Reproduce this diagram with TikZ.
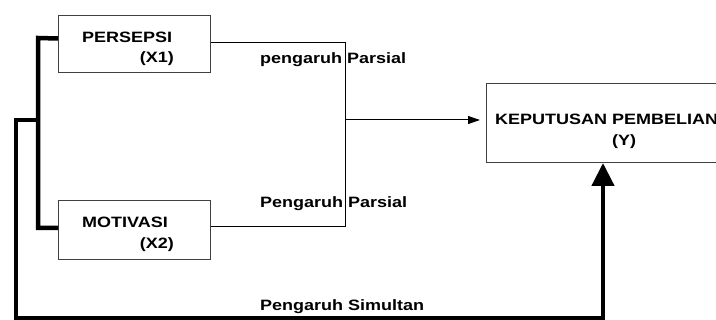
\documentclass[tikz,border=0pt]{standalone}
\usepackage{fontspec}
\setmainfont{Liberation Sans}[FakeStretch=1.2]
\usetikzlibrary{arrows.meta}
\begin{document}
\begin{tikzpicture}[x=1pt,y=-1pt,
  box/.style={draw=black!75, line width=1pt, inner sep=0pt, anchor=north west},
  lbl/.style={font=\bfseries\fontsize{15}{18}\selectfont, inner sep=0pt, anchor=base west},
  thinln/.style={line width=1pt},
  thickln/.style={line width=4.5pt}]
\useasboundingbox (0,0) rectangle (716,320);
\clip (0,0) rectangle (716,320);
% boxes
\node[box, minimum width=152pt, minimum height=57pt] (x1) at (58,15) {};
\node[box, minimum width=152pt, minimum height=59pt] (x2) at (58,200) {};
\node[box, minimum width=270pt, minimum height=79pt] (y) at (486,83) {};
% box texts
\node[lbl] (t1a) at (82,43) {PERSEPSI};
\node[lbl, anchor=base east] (t1b) at (174,63) {(X1)};
\node[lbl] (t2a) at (82,228) {MOTIVASI};
\node[lbl, anchor=base east] (t2b) at (174,249) {(X2)};
\node[lbl] (t3a) at (495,125) {KEPUTUSAN PEMBELIAN};
\node[lbl, anchor=base] (t3b) at (624,146) {(Y)};
% connector labels
\node[lbl] (l1) at (260,64) {pengaruh Parsial};
\node[lbl] (l2) at (260,208) {Pengaruh Parsial};
\node[lbl] (l3) at (260,311) {Pengaruh Simultan};
% thin partial connectors
\coordinate (j1) at (345,43);
\coordinate (j2) at (345,227);
\coordinate (j3) at (345,120);
\draw[thinln] (x1.east |- j1) -- (j1) -- (j2) -- (x2.east |- j2);
\draw[thinln, -{Triangle[length=12pt,width=8pt]}] (j3) -- ([xshift=-6pt]y.west |- j3);
% thick bracket
\coordinate (b0) at (38,38);
\coordinate (b2) at (38,228);
\coordinate (b1) at (38,120);
\draw[thickln] ([yshift=5.5pt]x1.west) -- (b0) -- (b2) -- (x2.west |- b2);
% simultaneous connector
\coordinate (o1) at (16,120);
\coordinate (o2) at (16,318);
\coordinate (o3) at (603,318);
\draw[thickln, -{Triangle[length=23pt,width=22pt]}] (b1) -- (o1) -- (o2) -- (o3) -- (o3 |- y.south);
\end{tikzpicture}
\end{document}
